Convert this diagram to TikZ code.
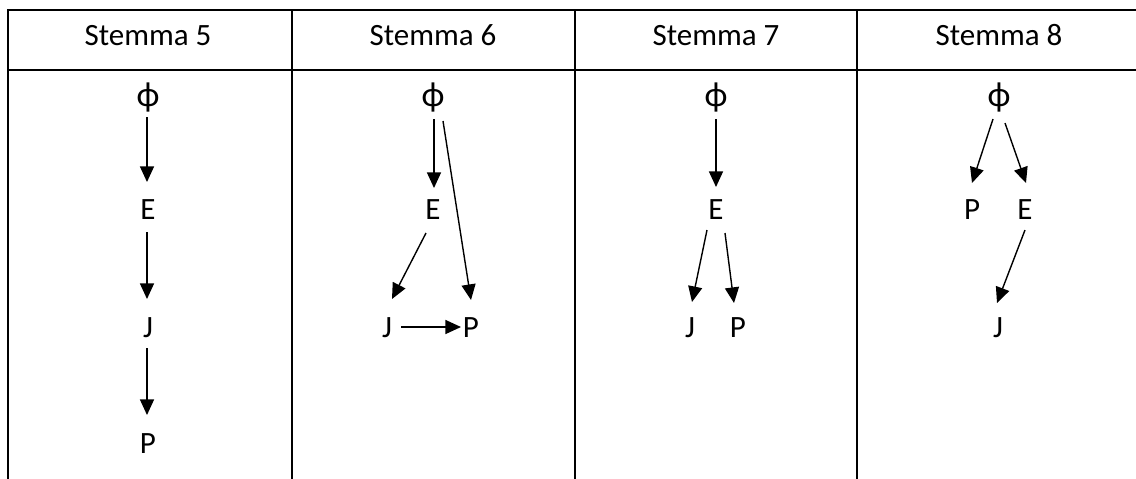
\documentclass[tikz,border=0pt]{standalone}
\usepackage{fontspec}
\setmainfont{Carlito}
\usetikzlibrary{arrows.meta,calc}

\tikzset{
  rule/.style={line width=1.1pt, black},
  lbl/.style={anchor=base, inner sep=0pt, font=\fontsize{15.5pt}{18pt}\selectfont},
  root/.style={lbl, font=\fontsize{17.5pt}{20pt}\selectfont},
  arr/.style={line width=0.7pt, black, -{Triangle[length=7.8pt,width=7pt]}},
}

\begin{document}
\begin{tikzpicture}[x=0.5pt, y=-0.5pt]
  \useasboundingbox (0,0) rectangle (1136,478);
  \clip (0,0) rectangle (1136,478);

  % table rules (right and bottom edges run off the page)
  \draw[rule] (8,10) -- (1150,10);
  \draw[rule] (8,70) -- (1150,70);
  \foreach \cx in {8,292,575,857}
    \draw[rule] (\cx,9.4) -- (\cx,490);

  % column headers
  \node[lbl] (h5) at (148,45) {Stemma 5};
  \node[lbl] (h6) at (433,45) {Stemma 6};
  \node[lbl] (h7) at (716,45) {Stemma 7};
  \node[lbl] (h8) at (999,45) {Stemma 8};

  % Stemma 5
  \node[root] (phiA) at (148,106) {ϕ};
  \node[lbl] (EA)   at (148,219) {E};
  \node[lbl] (JA)   at (148,337) {J};
  \node[lbl] (PA)   at (148,453) {P};
  \draw[arr] ($(phiA.base)+(-1,11)$) -- ($(EA.base)+(-1,-37)$);
  \draw[arr] ($(EA.base)+(-1,13)$)   -- ($(JA.base)+(-1,-38)$);
  \draw[arr] ($(JA.base)+(-1,11)$)   -- ($(PA.base)+(-1,-38)$);

  % Stemma 6
  \node[root] (phiB) at (433,106) {ϕ};
  \node[lbl] (EB)   at (433,219) {E};
  \node[lbl] (JB)   at (387,337) {J};
  \node[lbl] (PB)   at (471,337) {P};
  \draw[arr] ($(phiB.base)+(1,13)$)  -- ($(EB.base)+(1,-31)$);
  \draw[arr] ($(phiB.base)+(10,15)$) -- ($(PB.base)+(0,-37)$);
  \draw[arr] ($(EB.base)+(-7,14)$)   -- ($(JB.base)+(5,-38)$);
  \draw[arr] ($(JB.base)+(14,-10)$)  -- ($(PB.base)+(-10,-10)$);

  % Stemma 7
  \node[root] (phiC) at (716,106) {ϕ};
  \node[lbl] (EC)   at (716,219) {E};
  \node[lbl] (JC)   at (690,337) {J};
  \node[lbl] (PC)   at (738,337) {P};
  \draw[arr] ($(phiC.base)+(0,13)$)  -- ($(EC.base)+(0,-32)$);
  \draw[arr] ($(EC.base)+(-9,11)$)   -- ($(JC.base)+(2,-35)$);
  \draw[arr] ($(EC.base)+(9,14)$)    -- ($(PC.base)+(-4,-34)$);

  % Stemma 8
  \node[root] (phiD) at (999,106)  {ϕ};
  \node[lbl] (PD)   at (972,219)  {P};
  \node[lbl] (ED)   at (1025,219) {E};
  \node[lbl] (JD)   at (998,337)  {J};
  \draw[arr] ($(phiD.base)+(-6,13)$) -- ($(PD.base)+(0,-36)$);
  \draw[arr] ($(phiD.base)+(6,17)$)  -- ($(ED.base)+(1,-36)$);
  \draw[arr] ($(ED.base)+(0,11)$)    -- ($(JD.base)+(-1,-34)$);
\end{tikzpicture}
\end{document}
